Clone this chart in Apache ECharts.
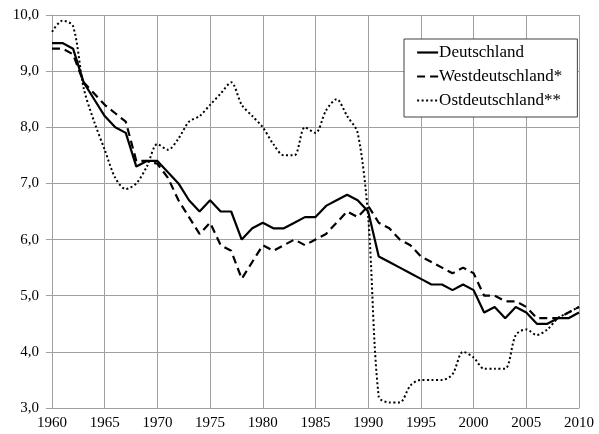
<!DOCTYPE html>
<html>
<head>
<meta charset="utf-8">
<script src="https://cdn.jsdelivr.net/npm/echarts@6/dist/echarts.min.js"></script>
<style>html,body{margin:0;padding:0;background:#fff}#c{width:599px;height:434px}</style>
</head>
<body>
<div id="c"></div>
<script>
var years = [];
for (var y = 1960; y <= 2010; y++) years.push(y);

var deutschland = [9.5,9.5,9.4,8.8,8.5,8.2,8.0,7.9,7.3,7.4,
                   7.4,7.2,7.0,6.7,6.5,6.7,6.5,6.5,6.0,6.2,
                   6.3,6.2,6.2,6.3,6.4,6.4,6.6,6.7,6.8,6.7,
                   6.5,5.7,5.6,5.5,5.4,5.3,5.2,5.2,5.1,5.2,
                   5.1,4.7,4.8,4.6,4.8,4.7,4.5,4.5,4.6,4.6,4.7];
var west = [9.4,9.4,9.3,8.8,8.6,8.4,8.25,8.1,7.4,7.4,
            7.35,7.1,6.7,6.4,6.1,6.3,5.9,5.8,5.3,5.6,
            5.9,5.8,5.9,6.0,5.9,6.0,6.1,6.3,6.5,6.4,
            6.6,6.3,6.2,6.0,5.9,5.7,5.6,5.5,5.4,5.5,
            5.4,5.0,5.0,4.9,4.9,4.8,4.6,4.6,4.6,4.7,4.8];
var ost = [9.7,9.9,9.8,8.7,8.1,7.6,7.1,6.9,7.0,7.3,
           7.7,7.6,7.8,8.1,8.2,8.4,8.6,8.8,8.4,8.2,
           8.0,7.7,7.5,7.5,8.0,7.9,8.3,8.5,8.2,7.9,
           6.4,3.2,3.1,3.1,3.4,3.5,3.5,3.5,3.6,4.0,
           3.9,3.7,3.7,3.7,4.3,4.4,4.3,4.4,4.6,4.7,4.8];
var seriesNames = ['Deutschland','Westdeutschland*','Ostdeutschland**'];

function pairs(arr){ return years.map(function(y,i){ return [y, arr[i]]; }); }

var font = '"Liberation Serif","Times New Roman",serif';
var styles = [
  {width: 2.2, type: 'solid'},
  {width: 2.2, type: [8, 5]},
  {width: 2, type: [2, 2.5]}
];
var chart = echarts.init(document.getElementById('c'), null, {renderer:'canvas'});
chart.setOption({
  animation: false,
  backgroundColor: '#fff',
  grid: {left: 52, right: 20, top: 15, bottom: 26, containLabel: false},
  legend: {
    orient: 'vertical', left: 404, top: 39,
    padding: [5, 15, 8, 12],
    itemWidth: 21, itemHeight: 10, itemGap: 7,
    backgroundColor: '#fff', borderColor: '#404040', borderWidth: 1,
    textStyle: {fontFamily: font, fontSize: 17, color: '#000', padding: [0,0,0,-4]},
    itemStyle: {opacity: 0},
    data: seriesNames.map(function(n, i){
      return {name: n, itemStyle: {opacity: 0},
              lineStyle: {color: '#000', width: styles[i].width, type: styles[i].type}};
    })
  },
  xAxis: {
    type: 'value', min: 1960, max: 2010, interval: 5,
    axisLine: {show: true, lineStyle: {color: '#a0a0a0', width: 1}},
    axisTick: {show: false},
    splitLine: {show: true, lineStyle: {color: '#a0a0a0', width: 1}},
    axisLabel: {fontFamily: font, fontSize: 15, color: '#000', margin: 8,
      formatter: function(v){ return String(v); }}
  },
  yAxis: {
    type: 'value', min: 3, max: 10, interval: 1,
    axisLine: {show: true, lineStyle: {color: '#a0a0a0', width: 1}},
    axisTick: {show: true, length: 6, lineStyle: {color: '#a0a0a0'}},
    splitLine: {show: true, lineStyle: {color: '#a0a0a0', width: 1}},
    axisLabel: {fontFamily: font, fontSize: 15, color: '#000', margin: 13,
      formatter: function(v){ return v.toFixed(1).replace('.', ','); }}
  },
  series: [
    {name: seriesNames[0], type: 'line', data: pairs(deutschland), symbol: 'none',
     itemStyle: {color: '#000'}, lineStyle: {color: '#000', width: styles[0].width, type: styles[0].type}},
    {name: seriesNames[1], type: 'line', data: pairs(west), symbol: 'none',
     itemStyle: {color: '#000'}, lineStyle: {color: '#000', width: styles[1].width, type: styles[1].type}},
    {name: seriesNames[2], type: 'line', data: pairs(ost), symbol: 'none', smooth: 0.3,
     itemStyle: {color: '#000'}, lineStyle: {color: '#000', width: styles[2].width, type: styles[2].type}}
  ]
});
</script>
</body>
</html>
